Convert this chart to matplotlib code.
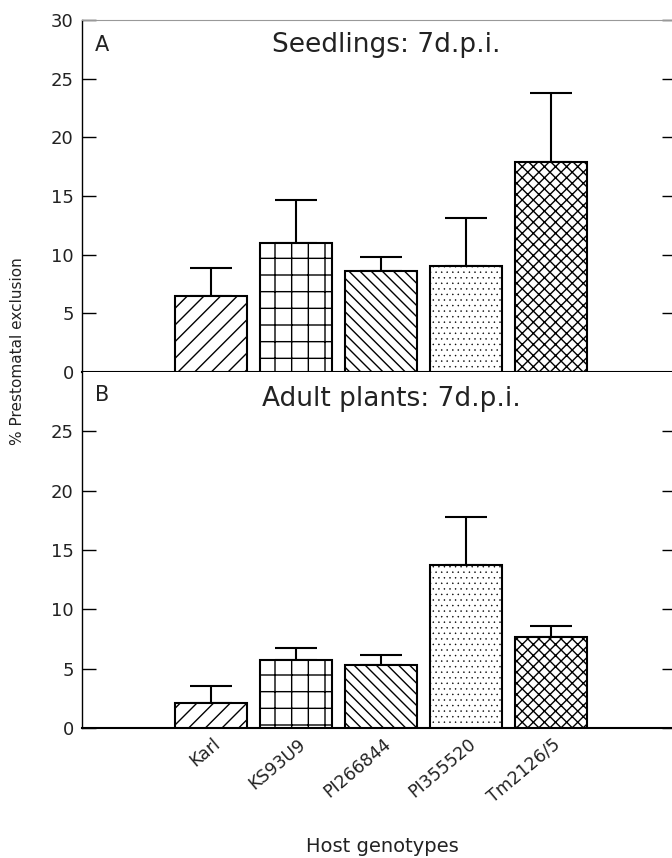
import matplotlib
matplotlib.use("Agg")
import matplotlib.pyplot as plt
import matplotlib.transforms as mtransforms
import numpy as np

categories = ["Karl", "KS93U9", "PI266844", "PI355520", "Tm2126/5"]
seedlings_mean = [6.5, 11.0, 8.6, 9.0, 17.9]
seedlings_err = [2.35, 3.7, 1.2, 4.1, 5.9]
adult_mean = [2.1, 5.7, 5.35, 13.7, 7.65]
adult_err = [1.4, 1.0, 0.8, 4.1, 0.95]
hatches = ["//", "+", "\\\\\\", "...", "xxx"]
hatch_lw = [1.0, 1.0, 1.0, 0.3, 1.0]
panel_titles = ["Seedlings: 7d.p.i.", "Adult plants: 7d.p.i."]
panel_letters = ["A", "B"]

plt.rcParams["font.family"] = ["DejaVu Sans"]
plt.rcParams["hatch.linewidth"] = 1.0
TXT = "#222222"

W, H = 672, 858
fig = plt.figure(figsize=(W / 100, H / 100), dpi=100)

left = 82 / W
right = 676 / W
axA = fig.add_axes([left, 1 - 372 / H, right - left, (372 - 20) / H])
axB = fig.add_axes([left, 1 - 728 / H, right - left, (728 - 372) / H])

x = np.arange(len(categories))

def draw(ax, means, errs, letter, title, ymax_tick, title_y, letter_y, title_x):
    for xi, m, h, hl in zip(x, means, hatches, hatch_lw):
        plt.rcParams["hatch.linewidth"] = hl
        b = ax.bar(xi, m, width=0.85, color="white", edgecolor="black",
                   linewidth=1.5, zorder=3, hatch=h)[0]
        if hasattr(b, "set_hatch_linewidth"):
            b.set_hatch_linewidth(hl)
    plt.rcParams["hatch.linewidth"] = 1.0
    ax.errorbar(x, means, yerr=[np.zeros(len(means)), errs], fmt="none",
                ecolor="black", elinewidth=1.5, capsize=15, capthick=1.5, zorder=2)
    ax.set_xlim(-1.52, 5.47)
    ax.set_ylim(0, 30)
    ax.set_yticks(np.arange(0, ymax_tick + 1, 5))
    ax.tick_params(axis="y", direction="in", length=10, width=1, labelsize=13,
                   left=True, right=True, pad=6, labelcolor=TXT)
    ax.spines["left"].set_linewidth(1.0)
    ax.spines["bottom"].set_linewidth(1.5)
    ax.spines["right"].set_linewidth(1.0)
    ax.text(0.022, letter_y, letter, transform=ax.transAxes, fontsize=15,
            ha="left", va="center", color=TXT)
    ax.text(title_x, title_y, title, transform=ax.transAxes, fontsize=19,
            ha="center", va="center", color=TXT)

draw(axA, seedlings_mean, seedlings_err, panel_letters[0], panel_titles[0], 30, 0.93, 0.93, 0.513)
draw(axB, adult_mean, adult_err, panel_letters[1], panel_titles[1], 25, 0.925, 0.935, 0.52)

axA.spines["top"].set_color("#999999")
axA.spines["top"].set_linewidth(0.8)
axA.set_xticks([])
axB.spines["top"].set_visible(False)

axB.set_xticks(x)
axB.set_xticklabels(categories, rotation=40, ha="right", va="center",
                    rotation_mode="anchor", fontsize=12.5, color=TXT)
axB.tick_params(axis="x", length=0, pad=10)
offset = mtransforms.ScaledTranslation(7 / 100, 0, fig.dpi_scale_trans)
for lbl in axB.get_xticklabels():
    lbl.set_transform(lbl.get_transform() + offset)

fig.text(18 / W, 1 - 351 / H, "% Prestomatal exclusion", rotation=90,
         fontsize=11, ha="center", va="center", color=TXT)
fig.text(382 / W, 1 - 846 / H, "Host genotypes", fontsize=14,
         ha="center", va="center", color=TXT)

fig.savefig("out.png", dpi=100)
